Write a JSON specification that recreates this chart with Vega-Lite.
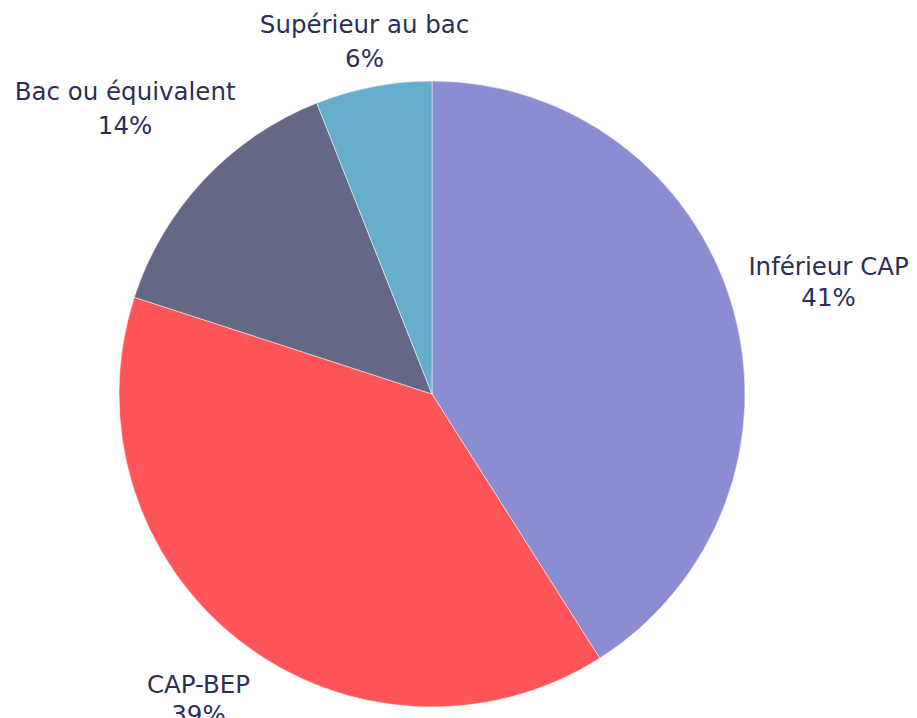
{
  "$schema": "https://vega.github.io/schema/vega-lite/v6.json",
  "autosize": "none",
  "padding": {"left": 0, "top": 0, "right": 53, "bottom": 0},
  "width": 864,
  "height": 788,
  "background": "white",
  "view": {"stroke": null},
  "data": {
    "values": [
      {"categorie": "Inférieur CAP", "valeur": 41, "ordre": 1},
      {"categorie": "CAP-BEP", "valeur": 39, "ordre": 2},
      {"categorie": "Bac ou équivalent", "valeur": 14, "ordre": 3},
      {"categorie": "Supérieur au bac", "valeur": 6, "ordre": 4}
    ]
  },
  "transform": [
    {"stack": "valeur", "groupby": [], "sort": [{"field": "ordre", "order": "ascending"}], "as": ["debut", "fin"]},
    {"calculate": "(datum.debut + datum.fin) / 2", "as": "milieu"},
    {"calculate": "datum.categorie + '\\n' + datum.valeur + '%'", "as": "etiquette"}
  ],
  "layer": [
    {
      "mark": {"type": "arc", "radius": 313, "stroke": "white", "strokeWidth": 0.5},
      "encoding": {
        "theta": {"field": "debut", "type": "quantitative", "stack": null, "scale": {"domain": [0, 100]}},
        "theta2": {"field": "fin"},
        "color": {
          "field": "categorie",
          "type": "nominal",
          "legend": null,
          "scale": {
            "domain": ["Inférieur CAP", "CAP-BEP", "Bac ou équivalent", "Supérieur au bac"],
            "range": ["#8C8CD2", "#FF5558", "#646885", "#65AECB"]
          }
        }
      }
    },
    {
      "transform": [{"filter": "datum.categorie === 'Inférieur CAP'"}],
      "mark": {"type": "text", "radius": 413, "dy": -11, "lineBreak": "\n", "font": "DejaVu Sans", "fontSize": 24.5, "lineHeight": 31, "color": "#2B2F55", "align": "center", "baseline": "middle"},
      "encoding": {
        "theta": {"field": "milieu", "type": "quantitative", "stack": null},
        "text": {"field": "etiquette", "type": "nominal"}
      }
    },
    {
      "transform": [{"filter": "datum.categorie === 'CAP-BEP'"}],
      "mark": {"type": "text", "radius": 381, "dy": -9, "lineBreak": "\n", "font": "DejaVu Sans", "fontSize": 24.5, "lineHeight": 30, "color": "#2B2F55", "align": "center", "baseline": "middle"},
      "encoding": {
        "theta": {"field": "milieu", "type": "quantitative", "stack": null},
        "text": {"field": "etiquette", "type": "nominal"}
      }
    },
    {
      "transform": [{"filter": "datum.categorie === 'Bac ou équivalent'"}],
      "mark": {"type": "text", "radius": 421, "dy": -13, "lineBreak": "\n", "font": "DejaVu Sans", "fontSize": 24.5, "lineHeight": 34, "color": "#2B2F55", "align": "center", "baseline": "middle"},
      "encoding": {
        "theta": {"field": "milieu", "type": "quantitative", "stack": null},
        "text": {"field": "etiquette", "type": "nominal"}
      }
    },
    {
      "transform": [{"filter": "datum.categorie === 'Supérieur au bac'"}],
      "mark": {"type": "text", "radius": 360, "dy": -14, "lineBreak": "\n", "font": "DejaVu Sans", "fontSize": 24.5, "lineHeight": 34, "color": "#2B2F55", "align": "center", "baseline": "middle"},
      "encoding": {
        "theta": {"field": "milieu", "type": "quantitative", "stack": null},
        "text": {"field": "etiquette", "type": "nominal"}
      }
    }
  ]
}
